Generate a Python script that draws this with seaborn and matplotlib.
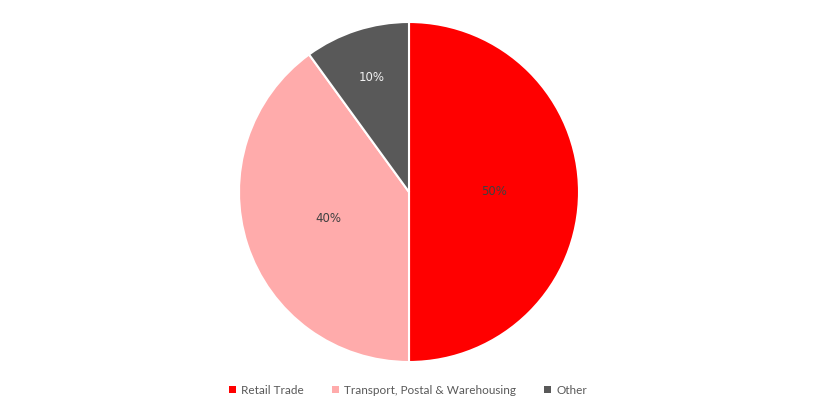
import matplotlib
matplotlib.use("Agg")
import matplotlib.pyplot as plt
import seaborn as sns
from matplotlib.patches import Patch

categories = ["Retail Trade", "Transport, Postal & Warehousing", "Other"]
shares = [50, 40, 10]
colors = ["#FF0000", "#FFABAB", "#595959"]
label_colors = ["#404040", "#404040", "#F2F2F2"]

sns.set_theme(style="white")
plt.rcParams['font.family'] = ['Lato', 'DejaVu Sans']
palette = sns.color_palette(colors)

fig = plt.figure(figsize=(8.33, 4.17), dpi=100)
ax = fig.add_axes([239 / 833, 55 / 417, 340 / 833, 340 / 417])

wedges, texts, autotexts = ax.pie(
    shares, colors=palette, startangle=90, counterclock=False,
    autopct="%d%%", pctdistance=0.5,
    wedgeprops=dict(edgecolor="white", linewidth=1.5),
    textprops=dict(fontsize=8.5, family="DejaVu Sans"),
)
for t, c in zip(autotexts, label_colors):
    t.set_color(c)
# the small slice label sits further out
x, y = autotexts[2].get_position()
autotexts[2].set_position((x * 1.42, y * 1.42))

ax.set_xlim(-1, 1)
ax.set_ylim(-1, 1)
ax.set_aspect("equal")
ax.axis("off")

handles = [Patch(facecolor=c, edgecolor="none") for c in colors]
leg = fig.legend(handles, categories, loc="center", bbox_to_anchor=(408 / 833, 1 - 390 / 417),
                 ncol=3, frameon=False, fontsize=8.5, handlelength=0.6, handleheight=0.6,
                 handletextpad=0.4, columnspacing=2.4)
for t in leg.get_texts():
    t.set_color("#595959")

fig.savefig("out.png", dpi=100)
